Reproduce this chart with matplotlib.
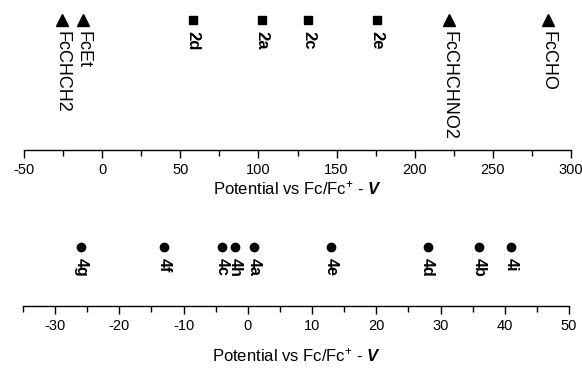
import matplotlib
matplotlib.use("Agg")
import matplotlib.pyplot as plt
import numpy as np

plt.rcParams['font.family'] = ['Liberation Sans', 'DejaVu Sans']
plt.rcParams['axes.unicode_minus'] = False
plt.rcParams['mathtext.fontset'] = 'custom'
plt.rcParams['mathtext.rm'] = 'Liberation Sans'
plt.rcParams['mathtext.it'] = 'Liberation Sans:italic'
plt.rcParams['mathtext.bf'] = 'Liberation Sans:bold'
plt.rcParams['mathtext.bfit'] = 'Liberation Sans:italic:bold'

# top panel: reference ferrocenes (triangles) and compounds 2 (squares)
ref_names = ['FcCHCH2', 'FcEt', 'FcCHCHNO2', 'FcCHO']
ref_pot = [-26, -12, 222, 285]
cmp2_names = ['2d', '2a', '2c', '2e']
cmp2_pot = [58, 102, 132, 176]

# bottom panel: compounds 4
cmp4_names = ['4g', '4f', '4c', '4h', '4a', '4e', '4d', '4b', '4i']
cmp4_pot = [-26, -13, -4, -2, 1, 13, 28, 36, 41]

xlabel = r'Potential vs Fc/Fc$^{+}$ - $\boldsymbol{V}$'


def setup_axis(ax, xlim, major, minor, pad):
    for s in ['left', 'right', 'top']:
        ax.spines[s].set_visible(False)
    ax.spines['bottom'].set_linewidth(1.0)
    ax.set_yticks([])
    ax.set_xlim(*xlim)
    ax.set_xticks(major)
    ax.set_xticks(minor, minor=True)
    ax.tick_params(axis='x', which='major', length=6, width=1, labelsize=10.5, pad=3)
    ax.tick_params(axis='x', which='minor', length=4, width=1)
    ax.set_xlabel(xlabel, fontsize=12, labelpad=pad)


def add_points(ax, xs, names, marker, ms, bold, size, y=1.0):
    ax.plot(xs, [y] * len(xs), linestyle='none', marker=marker, color='black', markersize=ms)
    for x, name in zip(xs, names):
        ax.annotate(name, (x, y), xytext=(0, -8), textcoords='offset points',
                    rotation=-90, ha='center', va='top', fontsize=size,
                    fontweight='bold' if bold else 'normal')


fig = plt.figure(figsize=(5.82, 3.68), dpi=100)

ax1 = fig.add_axes([24 / 582, 218 / 368, 547 / 582, 150 / 368])
setup_axis(ax1, (-50, 300), np.arange(-50, 301, 50), np.arange(-25, 300, 50), 2)
ax1.set_ylim(0, 1.15)
add_points(ax1, ref_pot, ref_names, '^', 8.5, False, 13)
add_points(ax1, cmp2_pot, cmp2_names, 's', 5.5, True, 12)

ax2 = fig.add_axes([23 / 582, 62 / 368, 546 / 582, 70 / 368])
setup_axis(ax2, (-35, 50), np.arange(-30, 51, 10), np.arange(-35, 50, 10), 10)
ax2.set_ylim(0, 1.186)
add_points(ax2, cmp4_pot, cmp4_names, 'o', 6, True, 11.5)

fig.savefig('out.png', dpi=100)
